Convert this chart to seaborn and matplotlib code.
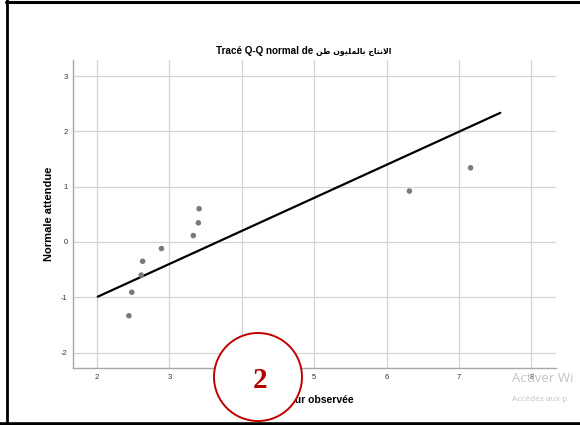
import numpy as np
import pandas as pd
import matplotlib
matplotlib.use("Agg")
import matplotlib.pyplot as plt
import matplotlib.patches as mpatches
from matplotlib.lines import Line2D
from matplotlib.transforms import IdentityTransform
import seaborn as sns

# ---- data ----
observed = [2.44, 2.48, 2.61, 2.63, 2.89, 3.33, 3.40, 3.41, 6.315, 7.16]
expected = [-1.335, -0.91, -0.60, -0.35, -0.12, 0.115, 0.345, 0.60, 0.92, 1.34]
line_x = [2.01, 7.57]
x_ticks = [2, 3, 4, 5, 6, 7, 8]
y_ticks = [-2, -1, 0, 1, 2, 3]

# Arabic title part, written in presentation forms in visual order
arabic_title = "\uFEE6\uFEC3 \uFEE5\uFEEE\uFEF4\uFEE0\uFEE4\uFEDF\uFE8E\uFE91 \uFE9D\uFE8E\uFE98\uFEE7\uFEFB\uFE8D"
title_latin = "Tracé Q-Q normal de"
x_label = "Valeur observée"
y_label = "Normale attendue"
watermark_1 = "Activer Wi"
watermark_2 = "Accédez aux p"

sns.set_theme(style="whitegrid")
plt.rcParams['font.family'] = ['Liberation Sans', 'DejaVu Sans']

W, H = 580, 425
fig = plt.figure(figsize=(W / 100, H / 100), dpi=100)
fig.patch.set_facecolor("white")
ax = fig.add_axes([73 / W, 1 - 368 / H, (556 - 73) / W, (368 - 60) / H])
ax.set_facecolor("white")

df = pd.DataFrame({"obs": observed, "exp": expected})
mean = np.mean(observed)
sd = np.std(observed, ddof=1)
line_df = pd.DataFrame({"x": line_x, "y": [(v - mean) / sd for v in line_x]})

sns.lineplot(data=line_df, x="x", y="y", ax=ax, color="black", linewidth=1.6, zorder=3)
sns.scatterplot(data=df, x="obs", y="exp", ax=ax, color="#7a7a7a", s=16,
                edgecolor="none", zorder=4)

ax.set_xlim(1.668, 8.34)
ax.set_ylim(-2.28, 3.29)
ax.set_xticks(x_ticks)
ax.set_yticks(y_ticks)
ax.set_xticklabels([str(t) for t in x_ticks])
ax.set_yticklabels([str(t) for t in y_ticks])
ax.tick_params(axis="both", labelsize=5.5, colors="#333333", length=0, pad=4)
ax.grid(True, color="#d4d4d4", linewidth=0.9)
for s in ["top", "right"]:
    ax.spines[s].set_visible(False)
for s in ["left", "bottom"]:
    ax.spines[s].set_color("#a8a8a8")
    ax.spines[s].set_linewidth(1.0)
ax.set_xlabel("")
ax.set_ylabel("")

# axis labels and title
fig.text(314 / W, 1 - 400 / H, x_label, ha="center", va="center",
         fontsize=7.5, fontweight="bold", color="black")
fig.text(49 / W, 1 - 214 / H, y_label, ha="center", va="center", rotation=90,
         fontsize=8, fontweight="bold", color="black")
fig.text(313 / W, 1 - 54 / H, title_latin, ha="right", va="baseline",
         fontsize=7.1, fontweight="bold", color="black")
fig.text(316 / W, 1 - 54 / H, arabic_title, ha="left", va="baseline",
         fontsize=5.6, fontweight="bold", color="black", family=["DejaVu Sans"])

# frame lines of the screenshot
fig.add_artist(Line2D([7, 7], [0, H], transform=IdentityTransform(), color="black", linewidth=2.0))
fig.add_artist(Line2D([6, W], [H - 1.5, H - 1.5], transform=IdentityTransform(), color="black", linewidth=2.2))
fig.add_artist(Line2D([0, W], [1.5, 1.5], transform=IdentityTransform(), color="black", linewidth=2.6))

# red circle annotation
circ = mpatches.Circle((258, H - 377), 44, transform=IdentityTransform(),
                       facecolor="white", edgecolor="#c00000", linewidth=1.4, zorder=10)
fig.add_artist(circ)
fig.text(260 / W, 1 - 380 / H, "2", ha="center", va="center", fontsize=21,
         fontweight="bold", color="#b00000", family=["Liberation Serif", "DejaVu Serif"], zorder=11)

# watermark text (as visible in the screenshot)
fig.text(512 / W, 1 - 382 / H, watermark_1, ha="left", va="baseline",
         fontsize=9.5, color="#c4c4c4", family=["Open Sans", "DejaVu Sans"])
fig.text(512 / W, 1 - 401 / H, watermark_2, ha="left", va="baseline",
         fontsize=6, color="#c4c4c4", family=["Open Sans", "DejaVu Sans"])

fig.savefig("out.png", dpi=100)
